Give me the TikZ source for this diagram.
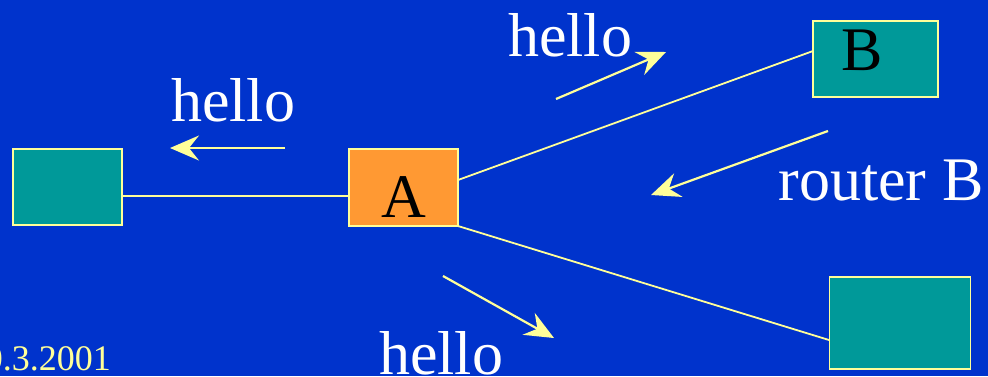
\documentclass[tikz,border=0pt]{standalone}
\usepackage{fontspec}
\setmainfont{Liberation Serif}
\usetikzlibrary{arrows.meta}
\definecolor{slideblue}{RGB}{0,51,204}
\definecolor{routerteal}{RGB}{0,153,153}
\definecolor{routerorange}{RGB}{255,153,51}
\definecolor{paleyellow}{RGB}{255,255,153}
\tikzset{
  router/.style={draw=paleyellow, line width=1.6pt, fill=routerteal, minimum width=#1, inner sep=0pt},
  link/.style={draw=paleyellow, line width=1.8pt},
  msg/.style={draw=paleyellow, line width=2.2pt, -{Stealth[length=29pt,width=25pt,inset=10pt]}},
  bigtext/.style={text=white, font=\fontsize{62}{62}\selectfont, anchor=base, inner sep=0pt}
}
\begin{document}
\begin{tikzpicture}[x=1pt, y=-1pt]
			%%%%% START %%%%%
			\fill[slideblue] (0, 0) rectangle (988, 376);
			\clip (0, 0) rectangle (988, 376);
			
			\node[router=109pt, minimum height=76pt] (left) at (67.5, 187) {};
			\node[router=109pt, minimum height=77pt, fill=routerorange] (A) at (403.5, 187.5) {};
			\node[router=125pt, minimum height=76pt] (B) at (875.5, 59) {};
			\node[router=141pt, minimum height=92pt] (low) at (900, 323) {};
			
			\node[anchor=base, inner sep=0pt, font=\fontsize{62}{62}\selectfont] (Alabel) at (403.5, 217) {A};
			\node[anchor=base, inner sep=0pt, font=\fontsize{62}{62}\selectfont] (Blabel) at (862, 70) {B};
			
			\coordinate (leftend) at (122, 196);
			\coordinate (Aleft) at (349, 196);
			\coordinate (Atop) at (458, 180);
			\coordinate (Bin) at (813, 51);
			\coordinate (Abot) at (458, 226);
			\coordinate (lowin) at (829, 340);
			\draw[link] (leftend) -- (Aleft);
			\draw[link] (Atop) -- (Bin);
			\draw[link] (Abot) -- (lowin);
			
			% hello messages
			\coordinate (m1s) at (285, 148);
			\coordinate (m1e) at (170, 148);
			\coordinate (m2s) at (556, 99);
			\coordinate (m2e) at (666, 52);
			\coordinate (m3s) at (443, 276);
			\coordinate (m3e) at (554, 338);
			\coordinate (m4s) at (828, 131);
			\coordinate (m4e) at (651, 195);
			\draw[msg] (m1s) -- (m1e);
			\draw[msg] (m2s) -- (m2e);
			\draw[msg] (m3s) -- (m3e);
			\draw[msg] (m4s) -- (m4e);
			
			\node[bigtext] (hello1) at (233, 121) {hello};
			\node[bigtext] (hello2) at (570, 56) {hello};
			\node[bigtext] (hello3) at (441, 374) {hello};
			\node[bigtext] (routerB) at (881, 200) {router B};
			
			\node[anchor=base east, inner sep=0pt, text=paleyellow, font=\fontsize{36}{36}\selectfont] (date) at (111, 370) {0.3.2001};
			%%%%% END %%%%%
\end{tikzpicture}
\end{document}
